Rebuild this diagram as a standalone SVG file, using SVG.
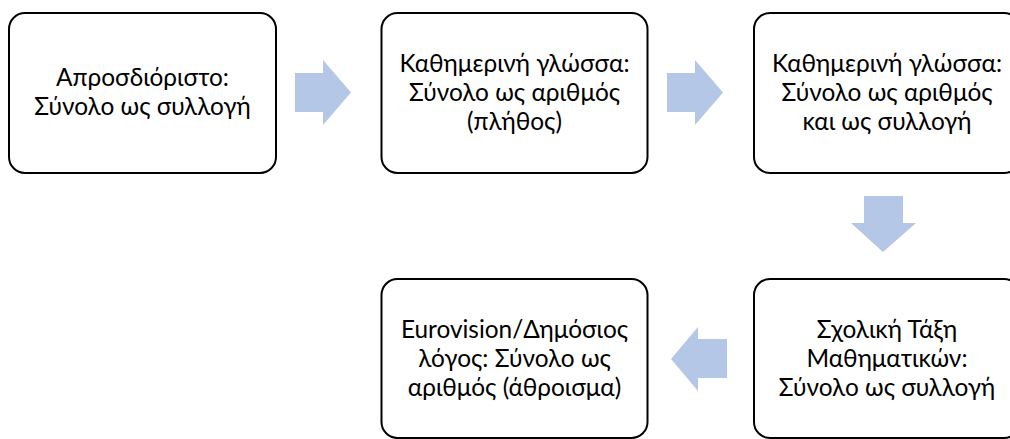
<svg xmlns="http://www.w3.org/2000/svg" width="1010" height="439" viewBox="0 0 1010 439">
<style>
.box{fill:#fff;stroke:#000;stroke-width:2}
.t{font-family:"Lato","Liberation Sans",sans-serif;font-size:24.4px;fill:#000;text-anchor:middle}
.arr{fill:#B4C7E7}
</style>
<rect width="1010" height="439" fill="#fff"/>
<g id="connectors">
<polygon class="arr" points="295,73 323,73 323,60 351,92.5 323,125 323,112 295,112"/>
<polygon class="arr" points="667,73 695,73 695,60 723,92.5 695,125 695,112 667,112"/>
<polygon class="arr" points="864,196 903,196 903,223 916,223 883,252 851,223 864,223"/>
<polygon class="arr" points="727,339 698,339 698,327 671,359 698,391 698,378 727,378"/>
</g>
<g id="n1"><rect class="box" x="9" y="13" width="267" height="160" rx="16"/>
<text class="t" x="142.5" y="86">Απροσδιόριστο:</text><text class="t" x="142.5" y="115">Σύνολο ως συλλογή</text></g>
<g id="n2"><rect class="box" x="381.5" y="13" width="266" height="160" rx="16"/>
<text class="t" x="514.5" y="72">Καθημερινή γλώσσα:</text><text class="t" x="514.5" y="101">Σύνολο ως αριθμός</text><text class="t" x="514.5" y="130">(πλήθος)</text></g>
<g id="n3"><rect class="box" x="754" y="13" width="266" height="160" rx="16"/>
<text class="t" x="887" y="72">Καθημερινή γλώσσα:</text><text class="t" x="887" y="101">Σύνολο ως αριθμός</text><text class="t" x="887" y="130">και ως συλλογή</text></g>
<g id="n5"><rect class="box" x="754" y="279" width="266" height="159" rx="16"/>
<text class="t" x="887" y="338">Σχολική Τάξη</text><text class="t" x="887" y="367">Μαθηματικών:</text><text class="t" x="887" y="396">Σύνολο ως συλλογή</text></g>
<g id="n4"><rect class="box" x="381.5" y="279" width="266" height="159" rx="16"/>
<text class="t" x="514.5" y="338">Eurovision/Δημόσιος</text><text class="t" x="514.5" y="367">λόγος: Σύνολο ως</text><text class="t" x="514.5" y="396">αριθμός (άθροισμα)</text></g>
</svg>
